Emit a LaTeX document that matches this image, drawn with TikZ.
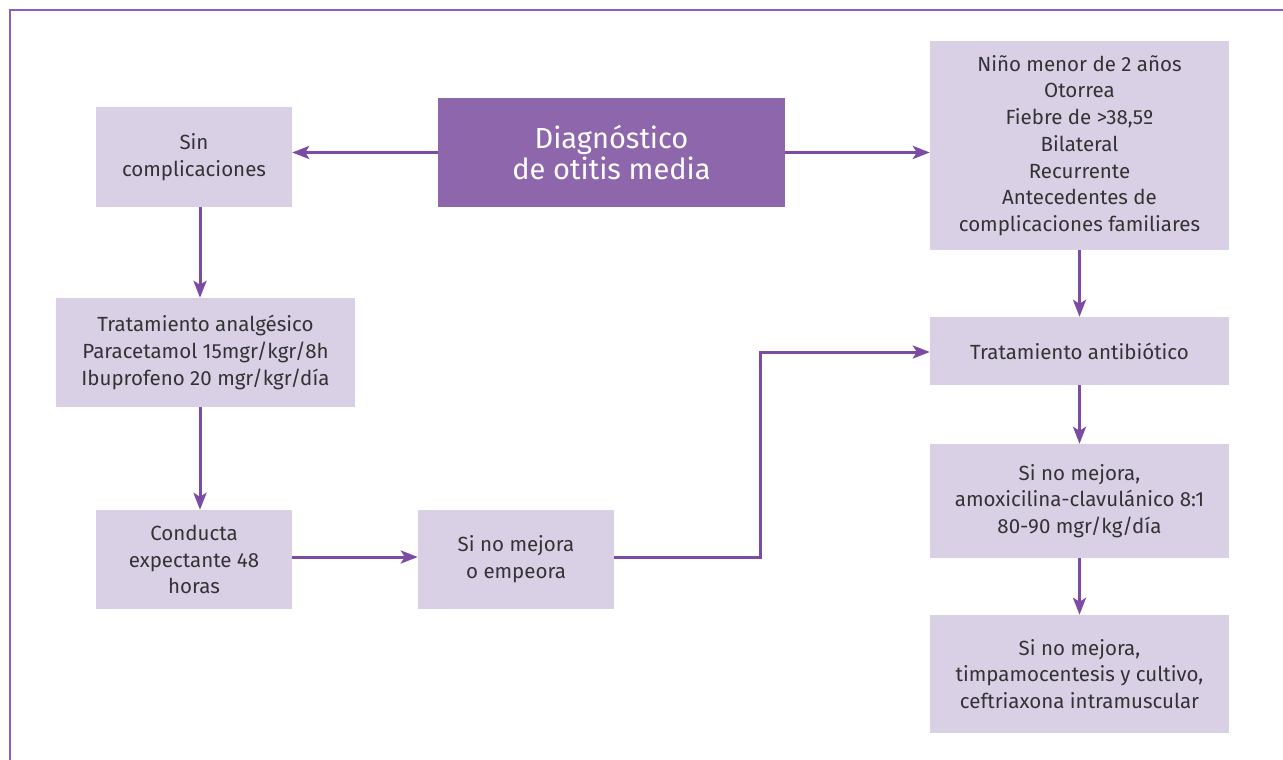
\documentclass[tikz,border=0pt]{standalone}
\usepackage{fontspec}
\setmainfont{Fira Sans}
\usetikzlibrary{arrows.meta}
\definecolor{boxfill}{HTML}{D9D0E6}
\definecolor{mainfill}{HTML}{8E66AB}
\definecolor{arrowc}{HTML}{7B4BA6}
\definecolor{framec}{HTML}{8A5FBF}
\definecolor{txt}{HTML}{333333}
\tikzset{
  lbox/.style={fill=boxfill, draw=none, text=txt, align=center, inner sep=0pt,
    font=\fontsize{20.5}{26.7}\selectfont},
  mainbox/.style={fill=mainfill, draw=none, text=white, align=center, inner sep=0pt,
    font=\fontsize{29}{31}\selectfont},
  conn/.style={draw=arrowc, line width=3pt, -{Stealth[length=17pt,width=13pt,inset=4pt]}},
}
\begin{document}
\begin{tikzpicture}[x=1pt,y=-1pt]
\useasboundingbox (0,0) rectangle (1283,760);
\draw[framec, line width=2pt] (1283,10) -- (10,10) -- (10,760);
\node[mainbox, minimum width=347pt, minimum height=109pt] (diag) at (611.5,152.5) {Diagnóstico\\de otitis media};
\node[lbox, minimum width=196pt, minimum height=100pt] (sin) at (194,157) {Sin\\complicaciones};
\node[lbox, minimum width=299pt, minimum height=109pt] (analg) at (205.5,352.5) {Tratamiento analgésico\\Paracetamol 15mgr/kgr/8h\\Ibuprofeno 20 mgr/kgr/día};
\node[lbox, minimum width=196pt, minimum height=99pt] (cond) at (194,559.5) {Conducta\\expectante 48\\horas};
\node[lbox, minimum width=196pt, minimum height=99pt] (nomej) at (516,559.5) {Si no mejora\\o empeora};
\node[lbox, minimum width=299pt, minimum height=209pt] (risk) at (1079.5,145.5) {Niño menor de 2 años\\Otorrea\\Fiebre de >38,5º\\Bilateral\\Recurrente\\Antecedentes de\\complicaciones familiares};
\node[lbox, minimum width=299pt, minimum height=68pt] (atb) at (1079.5,351) {Tratamiento antibiótico};
\node[lbox, minimum width=299pt, minimum height=114pt] (amox) at (1079.5,501) {Si no mejora,\\amoxicilina-clavulánico 8:1\\80-90 mgr/kg/día};
\node[lbox, minimum width=299pt, minimum height=118pt] (timp) at (1079.5,674) {Si no mejora,\\timpamocentesis y cultivo,\\ceftriaxona intramuscular};
\coordinate (c1) at (760,557);
\coordinate (c2) at (760,352);
\draw[conn] (diag.west) -- (sin.east |- diag.west);
\draw[conn] (diag.east) -- (risk.west |- diag.east);
\draw[conn] (sin.south -| 200,0) -- (analg.north -| 200,0);
\draw[conn] (analg.south -| 200,0) -- (cond.north -| 200,0);
\draw[conn] (cond.east |- 0,557) -- (nomej.west |- 0,557);
\draw[conn] (nomej.east |- c1) -- (c1) -- (c2) -- (atb.west |- c2);
\draw[conn] (risk.south) -- (atb.north);
\draw[conn] (atb.south) -- (amox.north);
\draw[conn] (amox.south) -- (timp.north);
\end{tikzpicture}
\end{document}
